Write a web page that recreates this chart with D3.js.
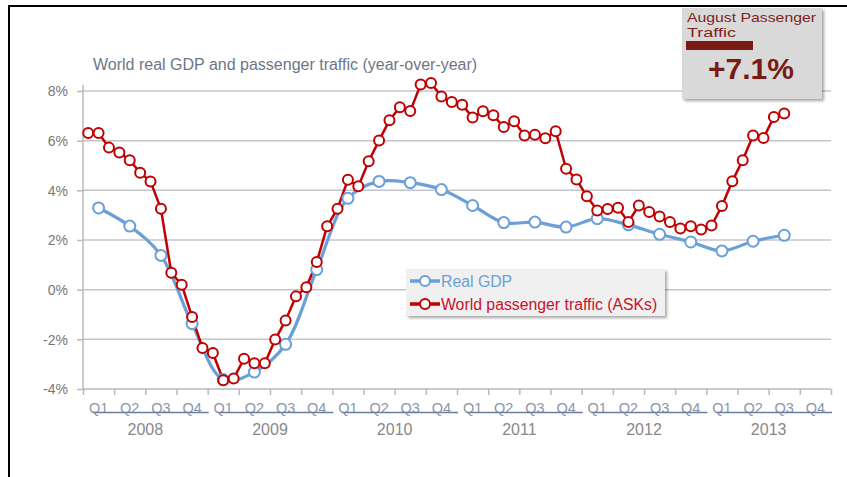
<!DOCTYPE html>
<html>
<head>
<meta charset="utf-8">
<script src="https://cdn.jsdelivr.net/npm/d3@7"></script>
<style>
  body { margin: 0; background: #fff; }
  svg { display: block; font-family: "Liberation Sans", Arial, sans-serif; }
</style>
</head>
<body>
<div id="chart"></div>
<script>
// data
const years = [2008, 2009, 2010, 2011, 2012, 2013];
const quarters = ["Q1", "Q2", "Q3", "Q4"];
const yTicks = [-4, -2, 0, 2, 4, 6, 8];

// Real GDP, quarterly, Q1 2008 .. Q3 2013
const gdp = [3.29, 2.56, 1.38, -1.37, -3.62, -3.32, -2.2, 0.81, 3.68, 4.36, 4.31, 4.03,
             3.39, 2.7, 2.72, 2.52, 2.86, 2.61, 2.23, 1.92, 1.56, 1.95, 2.19];

// World passenger traffic (ASKs), monthly, Jan 2008 .. Aug 2013
const asks = [6.31, 6.31, 5.72, 5.52, 5.21, 4.71, 4.36, 3.26, 0.68, 0.2, -1.1, -2.35,
              -2.55, -3.65, -3.58, -2.78, -2.96, -2.96, -2.01, -1.24, -0.27, 0.1, 1.11, 2.55,
              3.26, 4.43, 4.16, 5.17, 6.01, 6.82, 7.35, 7.19, 8.26, 8.32, 7.78, 7.56,
              7.45, 6.93, 7.18, 7.02, 6.55, 6.78, 6.21, 6.24, 6.1, 6.38, 4.87, 4.44,
              3.76, 3.19, 3.25, 3.3, 2.72, 3.39, 3.13, 2.95, 2.72, 2.46, 2.55, 2.42,
              2.58, 3.37, 4.37, 5.21, 6.21, 6.11, 6.95, 7.09];

const title = "World real GDP and passenger traffic (year-over-year)";
const legendNames = ["Real GDP", "World passenger traffic (ASKs)"];
const calloutLabel = ["August Passenger", "Traffic"];
const calloutValue = "+7.1%";

const blue = "#6a9fd8", red = "#c00000", dark = "#7a1a14";

const svg = d3.select("#chart").append("svg")
  .attr("width", 847).attr("height", 477);

const defs = svg.append("defs");
const sh = defs.append("filter").attr("id", "shadow")
  .attr("x", "-10%").attr("y", "-10%").attr("width", "130%").attr("height", "140%");
sh.append("feDropShadow").attr("dx", 2).attr("dy", 2).attr("stdDeviation", 1.5)
  .attr("flood-color", "#000").attr("flood-opacity", 0.35);

// frame lines
svg.append("line").attr("x1", 8).attr("x2", 847).attr("y1", 6).attr("y2", 6)
  .attr("stroke", "#000").attr("stroke-width", 2);
svg.append("line").attr("x1", 9).attr("x2", 9).attr("y1", 5).attr("y2", 477)
  .attr("stroke", "#000").attr("stroke-width", 2);

// scales: x in quarters since Q1 2008
const x = d3.scaleLinear().domain([0, 24]).range([83, 831]);
const y = d3.scaleLinear().domain([-4, 8]).range([389, 91]);

// gridlines
svg.append("g").selectAll("line").data(yTicks.filter(d => d > -4)).join("line")
  .attr("x1", x(0)).attr("x2", x(24))
  .attr("y1", d => y(d)).attr("y2", d => y(d))
  .attr("stroke", "#c4c4cc").attr("stroke-width", 1.5);

// y axis
const yAxis = svg.append("g").attr("transform", `translate(${x(0)},0)`)
  .call(d3.axisLeft(y).tickValues(yTicks).tickSize(6).tickFormat(d => d + "%"));
yAxis.select(".domain").attr("stroke", "#b8b8c0").attr("stroke-width", 1.5)
  .attr("d", `M0,${y(8.25)}V${y(-4)}`);
yAxis.selectAll(".tick line").attr("stroke", "#b8b8c0").attr("stroke-width", 1.5);
yAxis.selectAll(".tick text").attr("x", -15).attr("dy", "0.35em")
  .attr("fill", "#777").attr("font-size", 14).attr("font-family", "Liberation Sans, Arial, sans-serif");

// x axis
const xAxis = svg.append("g").attr("transform", `translate(0,${y(-4)})`)
  .call(d3.axisBottom(x).tickValues(d3.range(25)).tickSize(6).tickFormat(""));
xAxis.select(".domain").attr("stroke", "#b8b8c0").attr("stroke-width", 1.5)
  .attr("d", `M${x(0)},0H${x(24)}`);
xAxis.selectAll(".tick line").attr("stroke", "#b8b8c0").attr("stroke-width", 1.5);

// quarter labels
const qData = d3.range(24).map(i => ({ i: i, q: quarters[i % 4] }));
svg.append("g").selectAll("text").data(qData).join("text")
  .attr("x", d => x(d.i + 0.5)).attr("y", 413)
  .attr("text-anchor", "middle").attr("font-size", 14.5).attr("fill", "#8a96a8")
  .text(d => d.q);

// year underline + labels
const yg = svg.append("g").selectAll("g").data(years).join("g");
yg.append("line")
  .attr("x1", (d, i) => x(i * 4) + 10).attr("x2", (d, i) => x(i * 4 + 4) + 1)
  .attr("y1", 412.5).attr("y2", 412.5)
  .attr("stroke", "#6b7c9c").attr("stroke-width", 1.5);
yg.append("text")
  .attr("x", (d, i) => x(i * 4 + 2)).attr("y", 435)
  .attr("text-anchor", "middle").attr("font-size", 16).attr("fill", "#888")
  .text(d => d);

// title
svg.append("text").attr("x", 93).attr("y", 70)
  .attr("font-size", 16).attr("fill", "#6e7686").text(title);

// series
const gdpPts = gdp.map((v, i) => [x(i + 0.5), y(v)]);
const askPts = asks.map((v, i) => [x((i + 0.5) / 3), y(v)]);

svg.append("path").datum(gdpPts)
  .attr("d", d3.line().curve(d3.curveCatmullRom.alpha(0.5)))
  .attr("fill", "none").attr("stroke", blue).attr("stroke-width", 3.2);
svg.append("path").datum(askPts)
  .attr("d", d3.line())
  .attr("fill", "none").attr("stroke", red).attr("stroke-width", 2.5);

svg.append("g").selectAll("circle").data(gdpPts).join("circle")
  .attr("cx", d => d[0]).attr("cy", d => d[1]).attr("r", 5.5)
  .attr("fill", "#fff").attr("stroke", blue).attr("stroke-width", 2);
svg.append("g").selectAll("circle").data(askPts).join("circle")
  .attr("cx", d => d[0]).attr("cy", d => d[1]).attr("r", 5)
  .attr("fill", "#fff").attr("stroke", red).attr("stroke-width", 2);

// legend
const lg = svg.append("g").attr("transform", "translate(406,269)");
lg.append("rect").attr("width", 259).attr("height", 47)
  .attr("fill", "#f0f0f0").attr("filter", "url(#shadow)");
[blue, red].forEach((c, i) => {
  const row = lg.append("g").attr("transform", `translate(0,${12 + i * 23})`);
  row.append("line").attr("x1", 4).attr("x2", 34).attr("stroke", c).attr("stroke-width", 3.5);
  row.append("circle").attr("cx", 19).attr("r", 5).attr("fill", "#fff")
    .attr("stroke", c).attr("stroke-width", 2);
  row.append("text").attr("x", 35).attr("dy", "0.35em").attr("font-size", 15.8)
    .attr("fill", i === 0 ? blue : "#c8102e").text(legendNames[i]);
});

// callout
const cg = svg.append("g").attr("transform", "translate(682,8)");
cg.append("rect").attr("width", 140).attr("height", 91)
  .attr("fill", "#d9d9d9").attr("filter", "url(#shadow)");
calloutLabel.forEach((t, i) => {
  cg.append("text").attr("x", 5).attr("y", 14 + i * 15)
    .attr("font-size", 13.5).attr("fill", "#7f2222")
    .attr("textLength", i === 0 ? 129 : 49).attr("lengthAdjust", "spacingAndGlyphs")
    .text(t);
});
cg.append("rect").attr("x", 4).attr("y", 33).attr("width", 67).attr("height", 9)
  .attr("fill", dark);
cg.append("text").attr("x", 69).attr("y", 71).attr("text-anchor", "middle")
  .attr("font-size", 30).attr("font-weight", "bold").attr("fill", dark)
  .text(calloutValue);
</script>
</body>
</html>
